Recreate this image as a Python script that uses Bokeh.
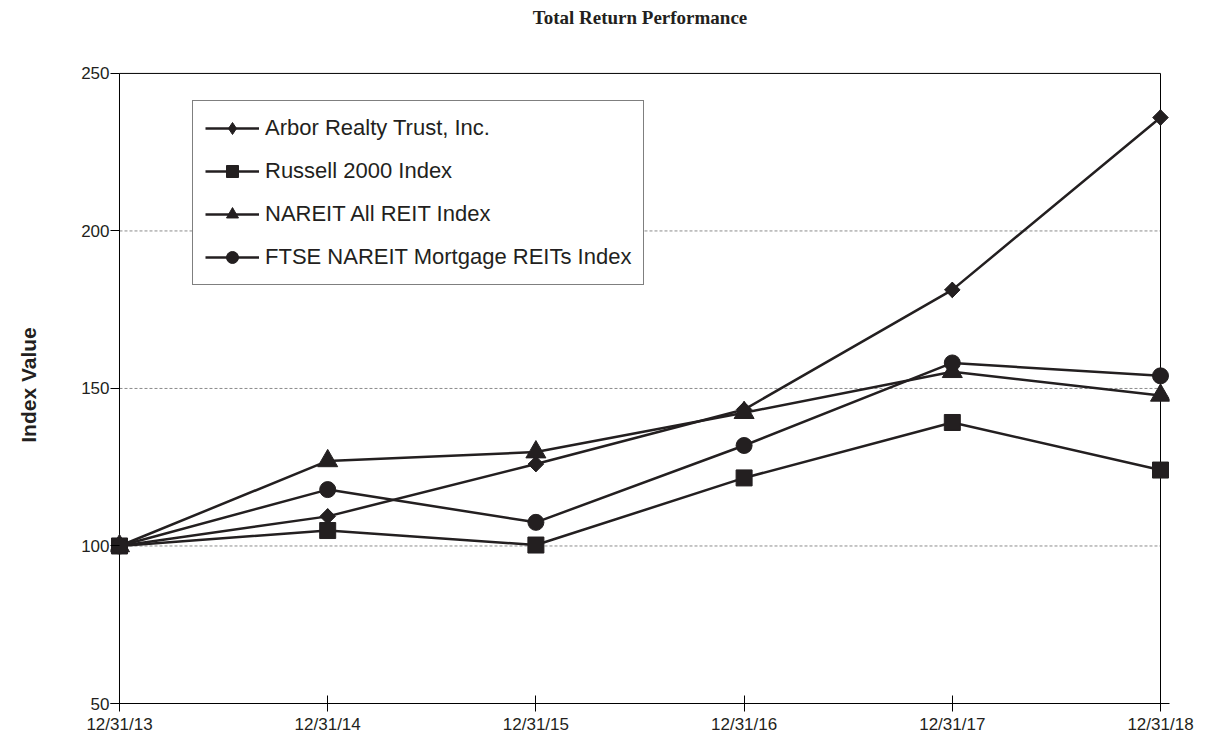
import math
from bokeh.plotting import figure
from bokeh.models import FixedTicker, Legend, LegendItem, Title, LinearAxis
from bokeh.embed import file_html
from bokeh.resources import INLINE

# ---- data ----
dates = ["12/31/13", "12/31/14", "12/31/15", "12/31/16", "12/31/17", "12/31/18"]
arbor = [100, 109.4, 126.0, 143.3, 181.3, 236.0]
russell = [100, 104.9, 100.3, 121.6, 139.2, 124.1]
nareit = [100, 127.0, 129.8, 142.3, 155.3, 147.8]
ftse = [100, 117.9, 107.5, 131.9, 158.1, 154.0]
series_names = ["Arbor Realty Trust, Inc.", "Russell 2000 Index",
                "NAREIT All REIT Index", "FTSE NAREIT Mortgage REITs Index"]
yticks = [50, 100, 150, 200, 250]
title_text = "Total Return Performance"

xs = list(range(len(dates)))
INK = "#231f20"
PAD_X = 0.0432   # small room so edge markers are not cut
PAD_Y = 2.2

p = figure(width=1205, height=750, output_backend="svg", toolbar_location=None,
           x_range=(xs[0] - PAD_X, xs[-1] + PAD_X),
           y_range=(yticks[0], yticks[-1] + PAD_Y),
           min_border_left=110, min_border_right=36, min_border_top=66,
           min_border_bottom=47)
p.background_fill_color = "white"
p.border_fill_color = "white"
p.outline_line_color = None

# axes (configure the default bottom / left axes only)
xa = p.below[0]
ya = p.left[0]
xa.ticker = FixedTicker(ticks=xs)
xa.major_label_overrides = {i: d for i, d in zip(xs, dates)}
xa.major_tick_in = 8
xa.major_tick_out = 8
xa.minor_tick_line_color = None
xa.major_label_standoff = 3
xa.axis_line_color = "black"
ya.ticker = FixedTicker(ticks=yticks)
ya.major_tick_in = 9
ya.major_tick_out = 0
ya.minor_tick_line_color = None
ya.major_label_standoff = 1
ya.axis_line_color = None
for ax in (xa, ya):
    ax.major_tick_line_color = "black"
    ax.major_label_text_font = "Liberation Sans"
    ax.major_label_text_font_size = "17px"
    ax.major_label_text_color = INK
ya.axis_label = "Index Value"
ya.axis_label_text_font = "Liberation Sans"
ya.axis_label_text_font_style = "bold"
ya.axis_label_text_font_size = "21px"
ya.axis_label_text_color = INK
ya.axis_label_standoff = 38

# blank spacer band between the plot area and the title
spacer = LinearAxis(ticker=FixedTicker(ticks=[xs[0]]), axis_line_color=None,
                    major_tick_line_color=None, minor_tick_line_color=None,
                    major_tick_out=31, major_tick_in=0, minor_tick_out=0,
                    major_label_standoff=0, major_label_overrides={xs[0]: ""},
                    major_label_text_font_size="1px")
p.add_layout(spacer, "above")
p.add_layout(Title(text=title_text, align="center", vertical_align="top",
                   text_font="Liberation Serif", text_font_style="bold",
                   text_font_size="19px", text_color=INK, standoff=12), "above")

p.xgrid.grid_line_color = None
p.ygrid.grid_line_color = None

# dashed gridlines (inner ticks) across the data span
inner = yticks[1:-1]
p.segment(x0=[xs[0]] * len(inner), x1=[xs[-1]] * len(inner), y0=inner, y1=inner,
          line_color="#8c8c8c", line_width=1, line_dash="3 2")
# plot-area border: left, right, top
p.segment(x0=[xs[0], xs[-1], xs[0]], x1=[xs[0], xs[-1], xs[-1]],
          y0=[yticks[0], yticks[0], yticks[-1]], y1=[yticks[-1], yticks[-1], yticks[-1]],
          line_color="black", line_width=1)

markers = [("square", 11, math.pi / 4), ("square", 16, 0),
           ("triangle", 20, 0), ("circle", 16, 0)]
items = []
for k, (name, vals, (mk, sz, ang)) in enumerate(
        zip(series_names, [arbor, russell, nareit, ftse], markers)):
    lr = p.line(xs, vals, line_color=INK, line_width=2.5)
    if k == 0:
        # diamond used for the legend key, covered by the rotated square
        leg = p.scatter(xs, vals, marker="diamond", size=15,
                        fill_color=INK, line_color=INK)
        p.scatter(xs, vals, marker=mk, size=sz, angle=ang,
                  fill_color=INK, line_color=INK)
        items.append(LegendItem(label=name, renderers=[lr, leg]))
    else:
        sr = p.scatter(xs, vals, marker=mk, size=sz, angle=ang,
                       fill_color=INK, line_color=INK)
        items.append(LegendItem(label=name, renderers=[lr, sr]))

legend = Legend(items=items, location=(82, 418), border_line_color="black",
                border_line_width=1, padding=12, spacing=13, glyph_width=54,
                glyph_height=30, label_height=30, label_standoff=6,
                label_text_font="Liberation Sans", label_text_font_size="22px",
                label_text_color=INK, margin=0, background_fill_alpha=1)
p.add_layout(legend)

open("out.html", "w").write(file_html(p, INLINE))
